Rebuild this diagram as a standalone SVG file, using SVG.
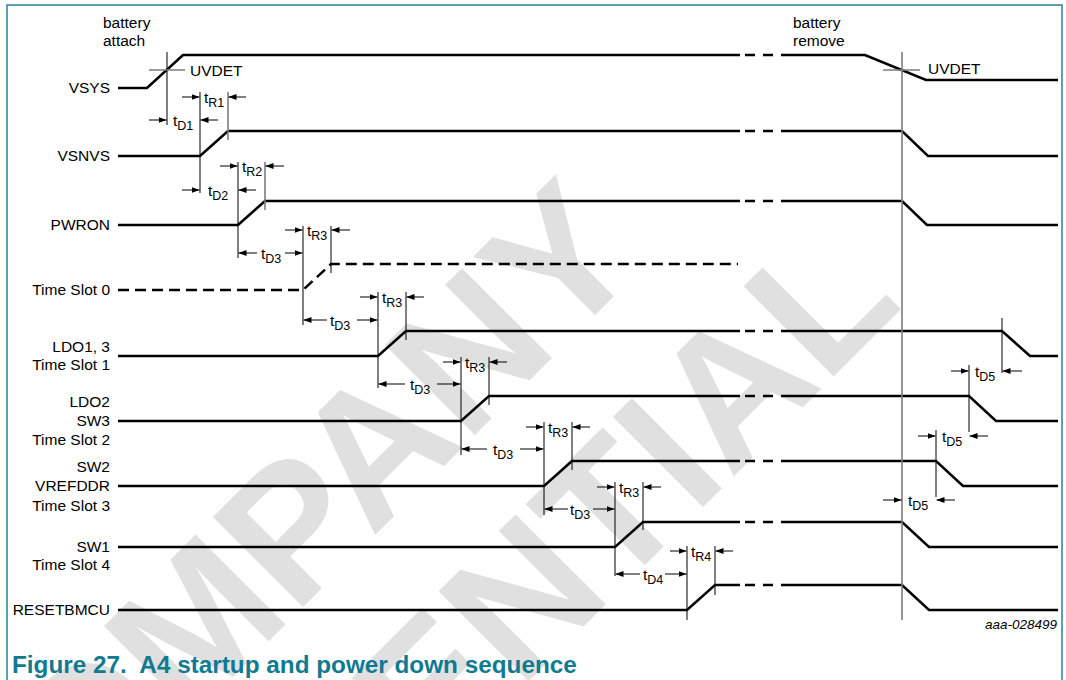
<svg xmlns="http://www.w3.org/2000/svg" width="1066" height="680" viewBox="0 0 1066 680">
<defs>
<style>
.lbl{font-family:"Liberation Sans",Arial,sans-serif;font-size:15.5px;fill:#000;text-anchor:end}
.txt{font-family:"Liberation Sans",Arial,sans-serif;font-size:15.5px;fill:#000}
.sub{font-size:12.5px}
.sig{fill:none;stroke:#000;stroke-width:2.5}
.dsh{fill:none;stroke:#000;stroke-width:2.5;stroke-dasharray:11 6}
.dim{stroke:#000;stroke-width:1;fill:none}
.gry{stroke:#7d7d7d;stroke-width:1.6;fill:none}
.arr{stroke:#000;stroke-width:1;marker-end:url(#ah)}
.wm{font-family:"Liberation Sans",Arial,sans-serif;font-weight:bold;font-size:185px;fill:#e0e0e0;text-anchor:end}
.cap{font-family:"Liberation Sans",Arial,sans-serif;font-weight:bold;font-size:24.3px;fill:#0f7a90}
</style>
<marker id="ah" viewBox="0 0 8 6" refX="8" refY="3" markerWidth="8" markerHeight="6" orient="auto" markerUnits="userSpaceOnUse"><path d="M0,0L8,3L0,6z" fill="#000"/></marker>
</defs>
<rect x="0" y="0" width="1066" height="680" fill="#fff"/>
<g id="watermark">
<text class="wm" x="648" y="262" transform="rotate(-45 648 262)">COMPANY</text>
<text class="wm" x="905" y="305" transform="rotate(-45 905 305)">CONFIDENTIAL</text>
</g>
<rect id="frame" x="7" y="5" width="1055" height="700" fill="none" stroke="#2f7f9b" stroke-width="1.5"/>

<g id="annotations">
<text class="txt" x="103" y="28">battery</text>
<text class="txt" x="103" y="46">attach</text>
<text class="txt" x="793" y="28">battery</text>
<text class="txt" x="793" y="46">remove</text>
<text class="txt" x="190" y="76">UVDET</text>
<text class="txt" x="928" y="74">UVDET</text>
<text x="1057" y="629" style="font-family:'Liberation Sans',Arial,sans-serif;font-size:13.5px;font-style:italic;text-anchor:end">aaa-028499</text>
</g>

<g id="VSYS">
<text class="lbl" x="110" y="93">VSYS</text>
<path class="sig" d="M118,88H147L183,55H740M745,55H755M763,55H773M781,55H865L926,80H1058"/>
</g>
<g id="VSNVS">
<text class="lbl" x="110" y="161">VSNVS</text>
<path class="sig" d="M118,156H200L228,131H740M745,131H755M763,131H773M781,131H902L928,156H1058"/>
</g>
<g id="PWRON">
<text class="lbl" x="110" y="230">PWRON</text>
<path class="sig" d="M118,225H238L265,201H740M745,201H755M763,201H773M781,201H902L927,225H1058"/>
</g>
<g id="TimeSlot0">
<text class="lbl" x="110" y="295">Time Slot 0</text>
<path class="dsh" d="M118,290H303L331,264H738"/>
</g>
<g id="TimeSlot1">
<text class="lbl" x="110" y="352">LDO1, 3</text>
<text class="lbl" x="110" y="370">Time Slot 1</text>
<path class="sig" d="M118,356H378L406,331H740M745,331H755M763,331H773M781,331H1002L1030,356H1058"/>
</g>
<g id="TimeSlot2">
<text class="lbl" x="110" y="407">LDO2</text>
<text class="lbl" x="110" y="426">SW3</text>
<text class="lbl" x="110" y="445">Time Slot 2</text>
<path class="sig" d="M118,421H461L489,396H740M745,396H755M763,396H773M781,396H969L996,421H1058"/>
</g>
<g id="TimeSlot3">
<text class="lbl" x="110" y="472">SW2</text>
<text class="lbl" x="110" y="491">VREFDDR</text>
<text class="lbl" x="110" y="511">Time Slot 3</text>
<path class="sig" d="M118,486H544L572,461H740M745,461H755M763,461H773M781,461H936L963,486H1058"/>
</g>
<g id="TimeSlot4">
<text class="lbl" x="110" y="552">SW1</text>
<text class="lbl" x="110" y="570">Time Slot 4</text>
<path class="sig" d="M118,547H615L643,522H740M745,522H755M763,522H773M781,522H902L929,547H1058"/>
</g>
<g id="RESETBMCU">
<text class="lbl" x="110" y="615">RESETBMCU</text>
<path class="sig" d="M118,610H687L715,585H740M745,585H755M763,585H773M781,585H902L929,610H1058"/>
</g>

<g id="connectors">
<path class="dim" d="M167,52V125M200,92V193M238,162V258M303,226V325M331,226V273M378,292V388M406,292V340M461,357V455M489,357V405M544,422V515M572,422V470M615,482V576M643,482V530M687,546V620M715,546V595M1002,318V373M969,365V432M936,430V497"/>
<path class="gry" d="M228,92V140M265,162V210M902,52V620M149,70H185M883,70H920"/>
<line class="arr" x1="182" y1="97" x2="199.5" y2="97"/><line class="arr" x1="246" y1="97" x2="228.5" y2="97"/>
<line class="arr" x1="149" y1="120" x2="166.5" y2="120"/><line class="arr" x1="218" y1="120" x2="200.5" y2="120"/>
<line class="arr" x1="220" y1="166" x2="237.5" y2="166"/><line class="arr" x1="284" y1="166" x2="265.5" y2="166"/>
<line class="arr" x1="182" y1="190" x2="199.5" y2="190"/><line class="arr" x1="256" y1="190" x2="238.5" y2="190"/>
<line class="arr" x1="285" y1="230" x2="302.5" y2="230"/><line class="arr" x1="350" y1="230" x2="331.5" y2="230"/>
<line class="arr" x1="257" y1="253" x2="238.5" y2="253"/><line class="arr" x1="285" y1="253" x2="302.5" y2="253"/>
<line class="arr" x1="360" y1="297" x2="377.5" y2="297"/><line class="arr" x1="424" y1="297" x2="406.5" y2="297"/>
<line class="arr" x1="327" y1="320" x2="303.5" y2="320"/><line class="arr" x1="357" y1="320" x2="377.5" y2="320"/>
<line class="arr" x1="443" y1="362" x2="460.5" y2="362"/><line class="arr" x1="507" y1="362" x2="489.5" y2="362"/>
<line class="arr" x1="405" y1="384" x2="378.5" y2="384"/><line class="arr" x1="437" y1="384" x2="460.5" y2="384"/>
<line class="arr" x1="526" y1="427" x2="543.5" y2="427"/><line class="arr" x1="590" y1="427" x2="572.5" y2="427"/>
<line class="arr" x1="487" y1="449" x2="461.5" y2="449"/><line class="arr" x1="520" y1="449" x2="543.5" y2="449"/>
<line class="arr" x1="597" y1="487" x2="614.5" y2="487"/><line class="arr" x1="661" y1="487" x2="643.5" y2="487"/>
<line class="arr" x1="568" y1="509" x2="544.5" y2="509"/><line class="arr" x1="593" y1="509" x2="614.5" y2="509"/>
<line class="arr" x1="670" y1="551" x2="686.5" y2="551"/><line class="arr" x1="733" y1="551" x2="715.5" y2="551"/>
<line class="arr" x1="640" y1="574" x2="615.5" y2="574"/><line class="arr" x1="665" y1="574" x2="686.5" y2="574"/>
<line class="arr" x1="951" y1="371" x2="968.5" y2="371"/><line class="arr" x1="1022" y1="371" x2="1002.5" y2="371"/>
<line class="arr" x1="918" y1="436" x2="935.5" y2="436"/><line class="arr" x1="988" y1="436" x2="969.5" y2="436"/>
<line class="arr" x1="883" y1="500" x2="901.5" y2="500"/><line class="arr" x1="955" y1="500" x2="936.5" y2="500"/>
<text class="txt" x="204" y="103">t<tspan class="sub" dy="4">R1</tspan></text>
<text class="txt" x="173" y="126">t<tspan class="sub" dy="4">D1</tspan></text>
<text class="txt" x="242" y="172">t<tspan class="sub" dy="4">R2</tspan></text>
<text class="txt" x="208" y="196">t<tspan class="sub" dy="4">D2</tspan></text>
<text class="txt" x="307" y="236">t<tspan class="sub" dy="4">R3</tspan></text>
<text class="txt" x="261" y="259">t<tspan class="sub" dy="4">D3</tspan></text>
<text class="txt" x="382" y="303">t<tspan class="sub" dy="4">R3</tspan></text>
<text class="txt" x="330" y="326">t<tspan class="sub" dy="4">D3</tspan></text>
<text class="txt" x="465" y="368">t<tspan class="sub" dy="4">R3</tspan></text>
<text class="txt" x="410" y="390">t<tspan class="sub" dy="4">D3</tspan></text>
<text class="txt" x="548" y="433">t<tspan class="sub" dy="4">R3</tspan></text>
<text class="txt" x="493" y="455">t<tspan class="sub" dy="4">D3</tspan></text>
<text class="txt" x="619" y="493">t<tspan class="sub" dy="4">R3</tspan></text>
<text class="txt" x="570" y="515">t<tspan class="sub" dy="4">D3</tspan></text>
<text class="txt" x="691" y="557">t<tspan class="sub" dy="4">R4</tspan></text>
<text class="txt" x="643" y="580">t<tspan class="sub" dy="4">D4</tspan></text>
<text class="txt" x="975" y="377">t<tspan class="sub" dy="4">D5</tspan></text>
<text class="txt" x="942" y="442">t<tspan class="sub" dy="4">D5</tspan></text>
<text class="txt" x="908" y="506">t<tspan class="sub" dy="4">D5</tspan></text>
</g>

<text class="cap" x="12" y="673" xml:space="preserve">Figure 27.  A4 startup and power down sequence</text>
</svg>
